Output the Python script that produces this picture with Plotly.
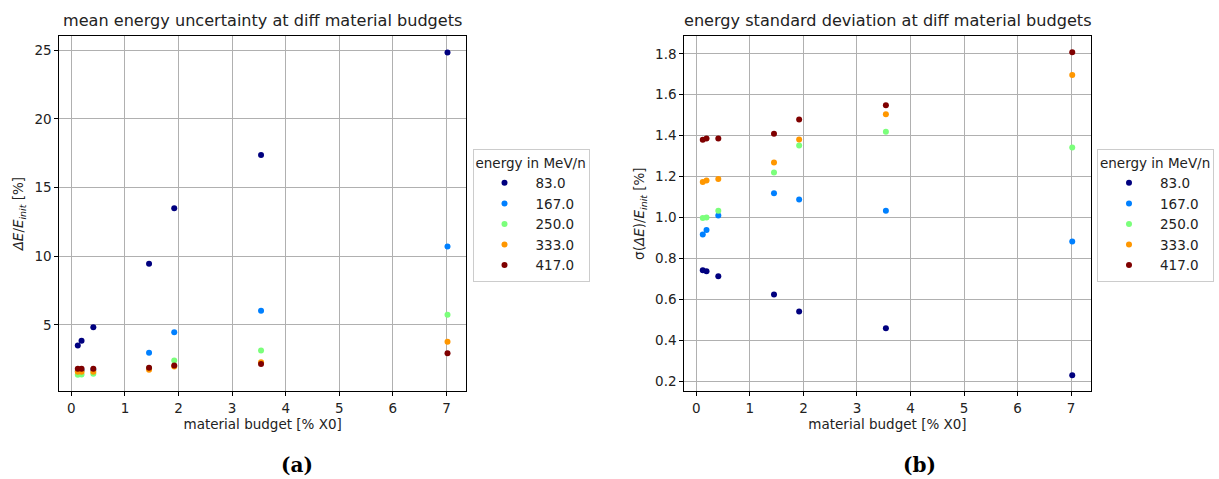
import plotly.graph_objects as go

# material budget positions [% X0]
budget = [0.12, 0.19, 0.41, 1.45, 1.92, 3.54, 7.02]

energies = ["83.0", "167.0", "250.0", "333.0", "417.0"]
colors = ["#00007f", "#0080ff", "#7bff7b", "#ff9700", "#7f0000"]

# mean relative energy uncertainty dE/E_init [%]
mean_83 = [3.50, 3.85, 4.84, 9.46, 13.50, 17.37, 24.83]
mean_167 = [1.65, 1.70, 1.75, 2.98, 4.48, 6.03, 10.72]
mean_250 = [1.38, 1.40, 1.45, 1.85, 2.41, 3.14, 5.74]
mean_333 = [1.60, 1.60, 1.60, 1.74, 1.98, 2.29, 3.78]
mean_417 = [1.82, 1.82, 1.82, 1.88, 2.05, 2.17, 2.95]

# standard deviation sigma(dE)/E_init [%]
std_83 = [0.742, 0.737, 0.712, 0.623, 0.540, 0.458, 0.229]
std_167 = [0.916, 0.939, 1.009, 1.118, 1.088, 1.033, 0.882]
std_250 = [0.997, 1.000, 1.033, 1.220, 1.352, 1.419, 1.342]
std_333 = [1.173, 1.180, 1.188, 1.268, 1.381, 1.504, 1.696]
std_417 = [1.380, 1.386, 1.386, 1.409, 1.479, 1.549, 1.808]

mean_series = [mean_83, mean_167, mean_250, mean_333, mean_417]
std_series = [std_83, std_167, std_250, std_333, std_417]

FONT = "DejaVu Sans"
W, H = 1219, 479

fig = go.Figure()

for name, col, vals in zip(energies, colors, mean_series):
    fig.add_trace(go.Scatter(
        x=budget, y=vals, mode="markers", name=name,
        marker=dict(color=col, size=6),
        xaxis="x", yaxis="y", legend="legend",
    ))

for name, col, vals in zip(energies, colors, std_series):
    fig.add_trace(go.Scatter(
        x=budget, y=vals, mode="markers", name=name,
        marker=dict(color=col, size=6),
        xaxis="x2", yaxis="y2", legend="legend2",
    ))


def px_x(p):
    return p / W


def px_y(p):
    return 1 - p / H


dom_y = [px_y(391.3), px_y(36)]

axis_common = dict(
    showline=True, linecolor="black", linewidth=1, mirror=True,
    ticks="outside", ticklen=4, tickcolor="black",
    showgrid=True, gridcolor="#b0b0b0", gridwidth=1,
    zeroline=False,
    tickfont=dict(family=FONT, size=13.5, color="#222222"),
    title_font=dict(family=FONT, size=13.5, color="#222222"),
)

legend_common = dict(
    bgcolor="white", bordercolor="#cccccc", borderwidth=1,
    font=dict(family=FONT, size=13.5, color="#222222"),
    title=dict(text="energy in MeV/n", font=dict(family=FONT, size=13.5, color="#222222")),
    xanchor="left", yanchor="top", itemsizing="trace", itemwidth=52,
    tracegroupgap=0,
)

fig.update_layout(
    width=W, height=H,
    margin=dict(l=0, r=0, t=0, b=0),
    paper_bgcolor="white", plot_bgcolor="white",
    font=dict(family=FONT, color="#222222"),
    xaxis=dict(domain=[px_x(59.3), px_x(466)], range=[-0.225, 7.365],
               tickvals=list(range(8)), anchor="y",
               title=dict(text="material budget [% X0]", standoff=5), **axis_common),
    yaxis=dict(domain=dom_y, range=[0.175, 26.03], tickvals=[5, 10, 15, 20, 25],
               anchor="x",
               title=dict(text="<i>ΔE</i>/<i>E</i><sub><i>init</i></sub> [%]", standoff=7),
               **axis_common),
    xaxis2=dict(domain=[px_x(684.3), px_x(1090.7)], range=[-0.225, 7.365],
                tickvals=list(range(8)), anchor="y2",
                title=dict(text="material budget [% X0]", standoff=5), **axis_common),
    yaxis2=dict(domain=dom_y, range=[0.15, 1.887],
                tickvals=[0.2, 0.4, 0.6, 0.8, 1.0, 1.2, 1.4, 1.6, 1.8], tickformat=".1f",
                anchor="x2",
                title=dict(text="σ(<i>ΔE</i>)/<i>E</i><sub><i>init</i></sub> [%]", standoff=7),
                **axis_common),
    legend=dict(x=px_x(472.5), y=px_y(149), **legend_common),
    legend2=dict(x=px_x(1097), y=px_y(149), **legend_common),
    annotations=[
        dict(text="mean energy uncertainty at diff material budgets",
             x=px_x(262.6), y=px_y(21), xref="paper", yref="paper",
             xanchor="center", yanchor="middle", showarrow=False,
             font=dict(family=FONT, size=16.1, color="#222222")),
        dict(text="energy standard deviation at diff material budgets",
             x=px_x(887.5), y=px_y(21), xref="paper", yref="paper",
             xanchor="center", yanchor="middle", showarrow=False,
             font=dict(family=FONT, size=16.1, color="#222222")),
        dict(text="<b>(a)</b>", x=px_x(297), y=px_y(465), xref="paper", yref="paper",
             xanchor="center", yanchor="middle", showarrow=False,
             font=dict(family="DejaVu Serif", size=20, color="black")),
        dict(text="<b>(b)</b>", x=px_x(919), y=px_y(465), xref="paper", yref="paper",
             xanchor="center", yanchor="middle", showarrow=False,
             font=dict(family="DejaVu Serif", size=20, color="black")),
    ],
)

fig.write_html("out.html")
